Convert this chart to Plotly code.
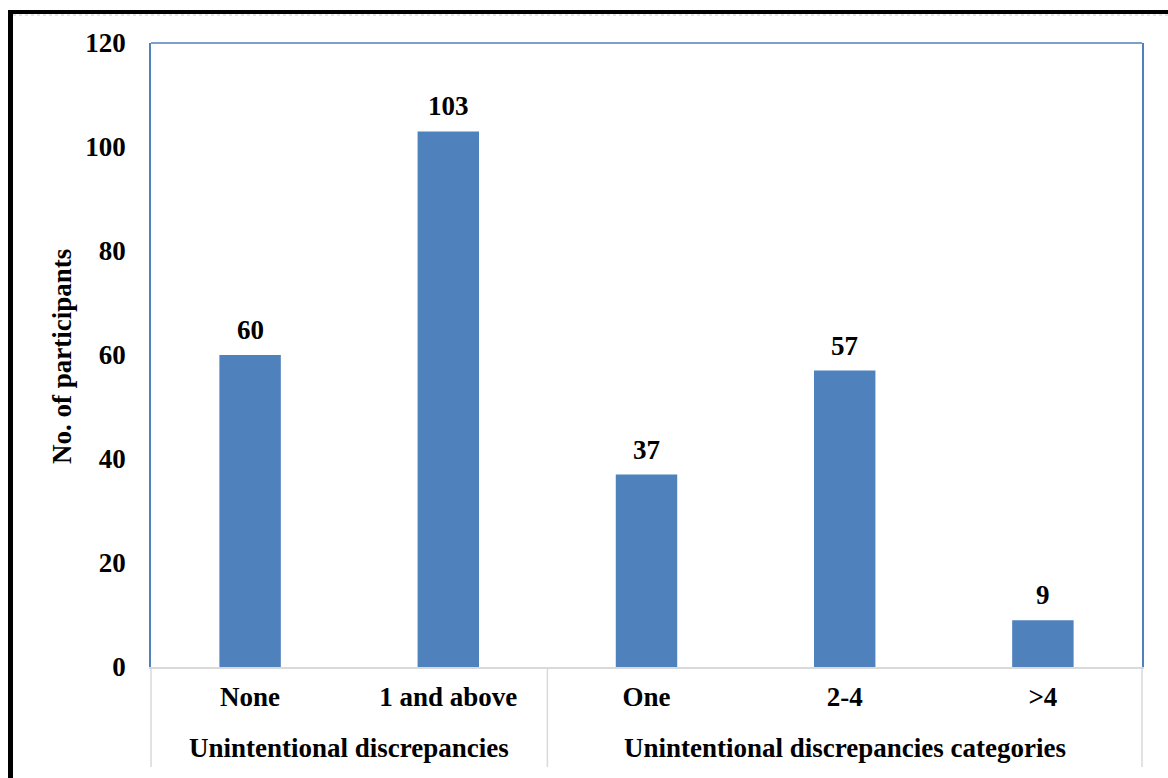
import plotly.graph_objects as go

# Participants by number of unintentional discrepancies
categories = ["None", "1 and above", "One", "2-4", ">4"]
participants = [60, 103, 37, 57, 9]
groups = ["Unintentional discrepancies", "Unintentional discrepancies categories"]
group_centers = [0.5, 3.0]
group_divider = 1.5
y_ticks = [0, 20, 40, 60, 80, 100, 120]

W, H = 1168, 778
L, R, T, B = 151, 26, 43, 111
pw, ph = W - L - R, H - T - B

def px_x(px):
    return (px - L) / pw

def px_y(py):
    return (H - B - py) / ph

FONT = "Liberation Serif"
FS = 27
BLUE = "#4F81BD"
GRID = "#D9D9D9"

fig = go.Figure(
    go.Bar(
        x=list(range(len(categories))),
        y=participants,
        width=0.31,
        marker=dict(color=BLUE, line=dict(width=0)),
        hoverinfo="skip",
    )
)

annotations = []
for i, v in enumerate(participants):
    annotations.append(dict(
        x=i, y=v, xref="x", yref="y", text=str(v), showarrow=False,
        yanchor="bottom", yshift=8,
        font=dict(family=FONT, size=FS, color="black", weight="bold"),
    ))
for c, g in zip(group_centers, groups):
    annotations.append(dict(
        x=c, y=px_y(748), xref="x", yref="paper", text=g, showarrow=False,
        yanchor="middle",
        font=dict(family=FONT, size=FS, color="black", weight="bold"),
    ))
annotations.append(dict(
    x=px_x(62), y=px_y(357), xref="paper", yref="paper", text="No. of participants",
    showarrow=False, textangle=-90, xanchor="center", yanchor="middle",
    font=dict(family=FONT, size=FS, color="black", weight="bold"),
))

shapes = [
    # plot frame: top edge
    dict(type="line", xref="paper", yref="paper", x0=0, x1=1, y0=1, y1=1,
         line=dict(color=BLUE, width=1.5)),
    # category separators below the axis
    dict(type="line", xref="paper", yref="paper", x0=0, x1=0, y0=0, y1=px_y(767),
         line=dict(color=GRID, width=1.5)),
    dict(type="line", xref="x", yref="paper", x0=group_divider, x1=group_divider,
         y0=0, y1=px_y(767), line=dict(color=GRID, width=1.5)),
    dict(type="line", xref="paper", yref="paper", x0=1, x1=1, y0=0, y1=px_y(767),
         line=dict(color=GRID, width=1.5)),
    # outer black border
    dict(type="line", xref="paper", yref="paper", x0=px_x(10.5), x1=px_x(10.5),
         y0=px_y(10), y1=px_y(790), line=dict(color="black", width=5)),
    dict(type="line", xref="paper", yref="paper", x0=px_x(8), x1=px_x(1180),
         y0=px_y(12), y1=px_y(12), line=dict(color="black", width=4)),
    dict(type="line", xref="paper", yref="paper", x0=px_x(13), x1=px_x(1180),
         y0=px_y(15), y1=px_y(15), line=dict(color="#C8C8C8", width=1, dash="dot")),
]

fig.update_layout(
    width=W, height=H,
    margin=dict(l=L, r=R, t=T, b=B, pad=0),
    paper_bgcolor="white", plot_bgcolor="white",
    showlegend=False,
    annotations=annotations,
    shapes=shapes,
    xaxis=dict(
        range=[-0.5, len(categories) - 0.5],
        tickmode="array", tickvals=list(range(len(categories))), ticktext=categories,
        showgrid=False, zeroline=False,
        showline=True, linecolor=GRID, linewidth=1.5,
        ticks="", ticklabelstandoff=5,
        tickfont=dict(family=FONT, size=FS, color="black", weight="bold"),
    ),
    yaxis=dict(
        range=[0, 120],
        tickmode="array", tickvals=y_ticks,
        showgrid=False, zeroline=False,
        showline=True, linecolor=BLUE, linewidth=1.5, mirror=True,
        ticks="", ticklabelstandoff=18,
        tickfont=dict(family=FONT, size=FS, color="black", weight="bold"),
    ),
)

fig.write_html("out.html")
